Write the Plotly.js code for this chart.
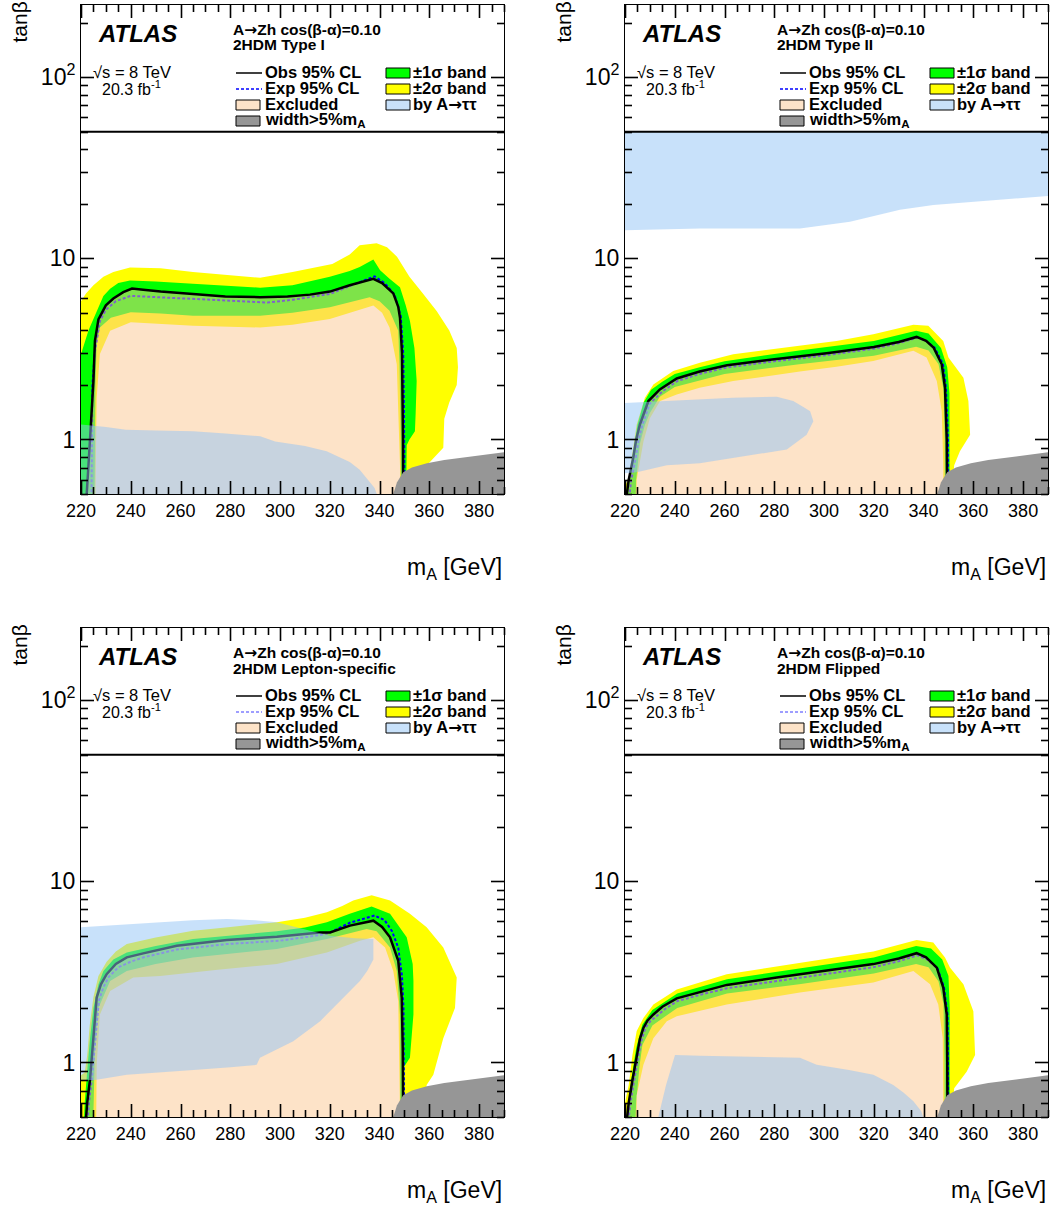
<!DOCTYPE html>
<html><head><meta charset="utf-8">
<script src="https://cdn.plot.ly/plotly-3.0.1.min.js"></script>
<style>html,body{margin:0;padding:0;background:#fff}#chart{width:1055px;height:1205px}</style>
</head><body><div id="chart"></div>
<script>
// ---------------- DATA ----------------
const massRange = [220, 390];
const tanbRange = [0.5, 250];
const tanbCut = 50;
const xTickStart = 220, xTickStep = 20, xMinorStep = 5;
const yTickVals = [1, 10, 100];
const yTickText = ['1', '10', '10<sup>2</sup>'];
const ARROW = '<span style="font-family:DejaVu Sans">\u2192</span>';
const headerText = 'A' + ARROW + 'Zh cos(\u03b2-\u03b1)=0.10';
const modelNames = ['2HDM Type I', '2HDM Type II', '2HDM Lepton-specific', '2HDM Flipped'];
const energyText = '\u221as = 8 TeV';
const lumiText = '20.3 fb<sup>-1</sup>';
const legendLabels = ['Obs 95% CL', 'Exp 95% CL', 'Excluded', 'width&gt;5%m<sub>A</sub>',
                      '\u00b11\u03c3 band', '\u00b12\u03c3 band', 'by A' + ARROW + '\u03c4\u03c4'];

// [mA, tanBeta] pairs
// ---- Type I ----
const t1_obs = [[222.0,0.45],[222.3,0.5],[223.2,0.8],[224.2,1.4],[225,2.1],[225.6,3.5],[227,4.6],[230,5.5],[233,6.0],[237,6.5],[240.5,6.8],[245,6.7],[252,6.55],[265,6.35],[278,6.15],[292,6.1],[303,6.15],[312,6.3],[320,6.55],[328,7.1],[337.5,7.7],[341,7.3],[345.5,6.4],[347.5,5.4],[348.2,4.7],[349,3.0],[349.2,2.0],[349.4,1.0],[349.5,0.45]];
const t1_exp = [[224.2,0.45],[224.3,1.0],[224.6,2.0],[225.5,3.0],[227.6,4.5],[230,5.2],[234,5.8],[240,6.2],[250,6.1],[265,5.95],[280,5.85],[295,5.7],[305,5.9],[320,6.35],[330,7.2],[338,7.95],[342,7.3],[346,6.3],[348.5,4.8],[349.5,3.0],[349.8,1.5],[350,0.45]];
const t1_band2Up = [[220,0.3],[220,5.8],[222,6.4],[225,7.1],[229,7.9],[233,8.4],[239.7,8.9],[252,8.8],[265,8.4],[280,8.1],[292,7.8],[305,8.4],[315,8.9],[321,9.3],[328,10.5],[332,11.8],[338.8,12.1],[343,11.5],[347,10.2],[352,7.9],[357,6.5],[363,5.1],[368,4.0],[371,3.2],[371.5,2.5],[371,2.0],[368,1.6],[366,1.3],[365.6,0.9],[362,0.8],[359,0.72],[357,0.5],[356,0.3]];
const t1_band1Up = [[220,0.3],[220,2.95],[223,4.0],[226.3,5.14],[229,6.2],[231.7,6.8],[235,7.3],[239.7,7.55],[250,7.45],[265,7.23],[280,7.0],[292,6.88],[305,7.1],[320,7.9],[328,8.5],[332,8.95],[337.5,9.84],[340.2,8.6],[344,7.7],[348.2,6.93],[350.5,5.5],[352.2,4.5],[354,3.2],[354.9,2.1],[354.5,1.4],[354.2,1.11],[352,1.0],[350.9,0.93],[350.5,0.3]];
const t1_band1Dn = [[225.3,0.3],[225.8,2.0],[226.3,3.4],[227.6,4.15],[232,4.7],[240,5.03],[252,4.95],[265,4.82],[292,4.82],[305,5.0],[320,5.37],[330,5.8],[336,6.1],[340,5.8],[344,5.14],[347.5,3.98],[348,2.6],[348.5,1.0],[348.6,0.3]];
const t1_band2Dn = [[225.6,0.3],[226.3,1.7],[227.6,2.96],[231.7,3.98],[240,4.43],[252,4.35],[265,4.24],[292,4.15],[305,4.3],[320,4.62],[330,5.1],[337.5,5.48],[341,5.0],[344,4.15],[346.9,2.6],[348.2,0.72],[348.3,0.3]];
const t1_tau = [[220,0.3],[220,1.21],[230,1.17],[238,1.13],[250,1.12],[265,1.11],[278,1.08],[292,1.04],[298,0.975],[310,0.92],[318.7,0.86],[328,0.75],[332,0.68],[335,0.61],[338,0.54],[340,0.45],[340,0.3]];

// ---- Type II ----
const t2_obs = [[220.3,0.45],[221.5,0.6],[223.3,0.79],[224.5,1.0],[226,1.21],[229.4,1.63],[234,1.89],[240.8,2.17],[250,2.37],[261,2.57],[280,2.77],[301,2.99],[320,3.24],[330,3.45],[337.2,3.68],[341,3.5],[344,3.22],[347.3,2.6],[348.6,1.93],[349.1,1.3],[349.3,1.0],[349.5,0.45]];
const t2_exp = [[221.5,0.45],[222.5,0.6],[224.3,0.79],[225.5,1.0],[227,1.21],[230,1.58],[235,1.84],[241,2.1],[250,2.3],[261,2.5],[280,2.7],[301,2.92],[320,3.17],[330,3.4],[337.5,3.65],[341,3.5],[344.5,3.2],[347.8,2.6],[349,1.93],[349.6,1.3],[349.8,1.0],[349.9,0.45]];
const t2_band2Up = [[220,0.3],[220,0.55],[221.5,0.62],[222.8,0.8],[224.7,1.21],[228,1.7],[231.4,2.01],[239.4,2.39],[250.1,2.65],[263.5,2.95],[290.3,3.28],[305,3.5],[319.8,3.81],[335.9,4.3],[341.9,4.24],[347.9,3.5],[350,2.83],[356,2.19],[358,1.63],[358.7,1.06],[354.6,0.86],[352.3,0.72],[350,0.3]];
const t2_band1Up = [[220.5,0.3],[221,0.5],[222,0.65],[223.5,0.9],[225,1.2],[227.5,1.6],[230.5,1.88],[235,2.08],[240,2.3],[250,2.5],[260,2.7],[290,3.1],[320,3.5],[337,3.98],[342,3.85],[347,3.2],[349.5,2.5],[350.4,1.8],[350.5,1.0],[350.5,0.3]];
const t2_band1Dn = [[223.8,0.3],[224.5,0.6],[226,0.95],[228,1.2],[230,1.4],[234,1.72],[240,1.95],[250,2.12],[260,2.3],[290,2.6],[320,2.9],[337,3.25],[342,3.1],[346,2.6],[348,1.9],[348.5,1.0],[348.6,0.3]];
const t2_band2Dn = [[224.3,0.3],[224.7,0.6],[227.4,0.97],[230,1.31],[234.1,1.63],[240.8,1.77],[250,1.93],[263.5,2.1],[290.3,2.37],[305,2.52],[319.8,2.71],[335.9,3.09],[341.2,2.83],[345.3,2.1],[347.3,1.43],[347.9,0.72],[348,0.3]];
const t2_tauHigh = [[220,50],[390,50],[390,22.1],[370.7,21],[343.9,19.7],[330.5,18.5],[310.4,15.9],[290.3,14.6],[250,14.6],[220,14.3]];
const t2_tauLow = [[220,1.59],[236.8,1.63],[263.5,1.70],[281,1.72],[287.6,1.63],[292,1.5],[294.4,1.43],[295.7,1.26],[293,1.06],[285,0.88],[270.2,0.82],[250,0.74],[236.8,0.72],[224.7,0.66],[220,0.65]];

// ---- Lepton-specific ----
const t3_obs = [[221.8,0.45],[222.5,0.6],[223.6,0.8],[224.9,1.31],[225.5,1.6],[226.3,2.28],[228,2.7],[230.3,3.07],[234,3.5],[238.4,3.8],[245,4.0],[258.5,4.41],[278.6,4.74],[298.7,4.94],[316.1,5.22],[320.1,5.22],[328.1,5.69],[337.5,6.06],[341,5.6],[344.2,4.91],[347.5,3.64],[348.9,2.28],[349.3,1.2],[349.5,0.45]];
const t3_exp = [[222.5,0.45],[223.2,0.6],[224.3,0.8],[225.6,1.31],[226.3,1.6],[227.2,2.2],[229,2.6],[231,2.95],[235,3.35],[240,3.6],[245,3.8],[258.5,4.2],[278.6,4.5],[300,4.7],[316,5.05],[320,5.2],[328,5.9],[338,6.47],[342,6.1],[345,5.3],[347.5,4.3],[349,3.0],[349.6,2.0],[349.8,1.0],[349.9,0.45]];
const t3_band2Up = [[220,0.3],[220,0.85],[221.5,0.88],[222.5,1.1],[223.5,1.6],[225,2.3],[227,3.0],[230.3,3.6],[234,4.1],[238.4,4.5],[250,4.9],[265,5.34],[280,5.6],[298.7,5.94],[310,6.3],[318.8,6.75],[325,7.3],[329.4,7.83],[336.8,8.36],[344.2,7.83],[352.2,6.61],[358.9,5.57],[365.6,4.31],[371,2.94],[370.3,2.0],[365.6,1.36],[361.6,0.855],[358.9,0.75],[357,0.3]];
const t3_band1Up = [[220.5,0.3],[221.5,0.6],[222.5,0.9],[223.5,1.3],[225,2.0],[227,2.7],[229,3.2],[233,3.7],[238.4,4.05],[250,4.4],[265,4.8],[280,5.0],[298.7,5.3],[310,5.55],[318.8,5.94],[328,6.61],[336.8,7.25],[344.2,6.61],[350.9,4.91],[353.3,3.5],[353.6,2.82],[353.6,1.84],[352.2,1.06],[349.9,0.95],[349.8,0.3]];
const t3_band1Dn = [[224.6,0.3],[225.6,1.2],[227,2.0],[231.7,2.82],[238.4,3.2],[250,3.5],[265,3.8],[298.7,4.23],[318.8,4.8],[334.8,5.46],[338.8,5.3],[344.2,4.31],[346.9,3.2],[348.2,1.84],[348.4,0.3]];
const t3_band2Dn = [[226,0.3],[226.3,0.97],[227.6,1.84],[231.7,2.48],[241,2.94],[251.8,3.0],[275,3.25],[298.7,3.49],[318.8,4.05],[332.1,4.7],[337.5,4.91],[342.2,4.31],[345.5,3.2],[347.5,2.18],[348.1,0.66],[348.2,0.3]];
const t3_tau = [[220,5.57],[235,5.75],[251.8,5.94],[265,6.1],[278.6,6.2],[290,6.1],[298.7,5.94],[306,5.6],[313,5.25],[320,5.0],[330,4.85],[337.5,4.8],[337.5,3.7],[335,3.2],[332.1,2.82],[325.4,2.28],[316.1,1.69],[305.3,1.31],[295,1.12],[291.9,1.06],[290.6,0.97],[280,0.94],[265.1,0.91],[238.4,0.855],[225.6,0.8],[220,0.8]];

// ---- Flipped ----
const t4_obs = [[220.5,0.45],[221.5,0.6],[223,0.8],[224.7,1.1],[226,1.35],[227.4,1.55],[229,1.7],[231.4,1.84],[235,2.03],[240.8,2.26],[250,2.45],[260.9,2.68],[281,2.94],[301.1,3.2],[319.8,3.49],[330,3.75],[337.2,4.01],[341,3.8],[345.3,3.34],[347.9,2.59],[349.3,1.84],[349.5,1.0],[349.6,0.45]];
const t4_exp = [[221.2,0.45],[222.2,0.6],[223.7,0.8],[225.4,1.1],[226.8,1.35],[228.2,1.55],[230,1.68],[232.5,1.8],[236,1.97],[241,2.18],[250,2.36],[261,2.57],[281,2.82],[301,3.07],[320,3.36],[330,3.62],[337.5,3.9],[341.5,3.7],[345.6,3.3],[348.2,2.6],[349.6,1.84],[349.8,1.0],[349.9,0.45]];
const t4_band2Up = [[220,0.3],[220,0.6],[221.5,0.75],[223,1.1],[224.7,1.49],[227.4,1.76],[231.4,2.09],[240.8,2.53],[260.9,3.07],[290.3,3.56],[319.8,4.1],[337.2,4.74],[343.9,4.6],[348.6,3.8],[350.6,3.34],[356,2.7],[360,1.92],[360.7,1.10],[357.3,0.89],[352.3,0.72],[350,0.3]];
const t4_band1Up = [[220.3,0.3],[221,0.5],[222.5,0.8],[224.5,1.2],[227,1.62],[231,1.95],[241,2.4],[261,2.88],[290,3.3],[320,3.8],[337,4.4],[343,4.25],[347.5,3.7],[350,3.0],[350.5,2.0],[350.5,0.3]];
const t4_band1Dn = [[223.5,0.3],[224.5,0.6],[225.8,0.95],[227,1.25],[231,1.6],[241,2.0],[261,2.4],[290,2.7],[320,3.1],[337,3.5],[342,3.35],[346,2.8],[348,2.1],[348.4,1.0],[348.5,0.3]];
const t4_band2Dn = [[224.5,0.3],[224.7,0.66],[227.4,0.97],[231.4,1.36],[236.8,1.69],[240.8,1.80],[260.9,2.09],[290.3,2.43],[319.8,2.76],[335.9,3.2],[342.6,2.7],[345.9,2.09],[347.7,1.36],[348,0.72],[348.1,0.3]];
const t4_tau = [[233,0.3],[233.4,0.5],[236.5,0.75],[240.1,1.10],[250,1.09],[263.5,1.08],[280,1.07],[290.3,1.06],[297,0.97],[310,0.91],[319.8,0.855],[327.8,0.75],[332,0.68],[335.9,0.61],[339,0.54],[341,0.45],[341,0.3]];

// region where the A width exceeds 5% of mA (same in all four panels)
const widthRegion = [[344.5,0.3],[345.5,0.5],[347,0.58],[349.5,0.66],[353,0.7],[359,0.74],[366,0.77],[372,0.79],[380,0.82],[390,0.85],[395,0.86],[395,0.3]];

// ---------------- STYLE / LAYOUT ----------------
const W = 1055, H = 1205;
const FONT = 'Liberation Sans, Arial, Helvetica, sans-serif';
const C = {
  yellow: '#ffff00', green: '#00ff00', white: '#ffffff',
  excl: 'rgba(251,199,145,0.5)', tau: 'rgba(145,195,245,0.5)', width: '#969696',
  exclLeg: '#fde3c8', tauLeg: '#c8e1fa', axis: '#000'
};
const TICK_W = 1.6;
const boxes = [[81,5,504,494],[625,5,1048,494],[81,628,504,1117],[625,628,1048,1117]];

const panels = [
  {obs:t1_obs, exp:t1_exp, b2u:t1_band2Up, b1u:t1_band1Up, b1d:t1_band1Dn, b2d:t1_band2Dn, tau:[t1_tau], expLeg:'#0000ff'},
  {obs:t2_obs, exp:t2_exp, b2u:t2_band2Up, b1u:t2_band1Up, b1d:t2_band1Dn, b2d:t2_band2Dn, tau:[t2_tauHigh, t2_tauLow], expLeg:'#0000ff'},
  {obs:t3_obs, exp:t3_exp, b2u:t3_band2Up, b1u:t3_band1Up, b1d:t3_band1Dn, b2d:t3_band2Dn, tau:[t3_tau], expLeg:'#7f7fff'},
  {obs:t4_obs, exp:t4_exp, b2u:t4_band2Up, b1u:t4_band1Up, b1d:t4_band1Dn, b2d:t4_band2Dn, tau:[t4_tau], expLeg:'#7f7fff'}
];

const xs = a => a.map(p => p[0]);
const ys = a => a.map(p => p[1]);

const minorY = [];
[0.1, 1, 10, 100].forEach(b => { for (let k = 2; k <= 9; k++) { const v = k * b; if (v >= tanbRange[0] && v <= tanbRange[1]) minorY.push(+v.toPrecision(3)); } });
const logRange = [Math.log10(tanbRange[0]), Math.log10(tanbRange[1])];

const traces = [];
const layout = {
  width: W, height: H, autosize: false,
  margin: {l: 0, r: 0, t: 0, b: 0},
  paper_bgcolor: '#fff', plot_bgcolor: '#fff',
  showlegend: false, annotations: [], shapes: []
};

function fillTrace(arr, color, xa, ya) {
  return {x: xs(arr), y: ys(arr), xaxis: xa, yaxis: ya, type: 'scatter', mode: 'lines',
          fill: 'toself', fillcolor: color, line: {width: 0, color: color}, hoverinfo: 'skip'};
}
const px2x = v => v / W;
const px2y = v => 1 - v / H;
const seg = (x0, y0, x1, y1, w, color, dash) => layout.shapes.push({type: 'line', xref: 'paper', yref: 'paper',
  x0: px2x(x0), y0: px2y(y0), x1: px2x(x1), y1: px2y(y1), line: {color: color || C.axis, width: w || TICK_W, dash: dash || 'solid'}});

panels.forEach((p, i) => {
  const n = i + 1;
  const xa = 'x' + (n === 1 ? '' : n), ya = 'y' + (n === 1 ? '' : n);
  const [L, T, R, B] = boxes[i];

  traces.push(fillTrace(p.b2u, C.yellow, xa, ya));
  traces.push(fillTrace(p.b1u, C.green, xa, ya));
  traces.push(fillTrace(p.b1d, C.yellow, xa, ya));
  traces.push(fillTrace(p.b2d, C.white, xa, ya));
  traces.push({x: xs(p.exp), y: ys(p.exp), xaxis: xa, yaxis: ya, type: 'scatter', mode: 'lines',
               line: {color: '#0000ff', width: 2, dash: '3px,2px'}, hoverinfo: 'skip'});
  traces.push(fillTrace(p.obs, C.excl, xa, ya));
  traces.push({x: xs(p.obs), y: ys(p.obs), xaxis: xa, yaxis: ya, type: 'scatter', mode: 'lines',
               line: {color: '#000', width: 2.5}, hoverinfo: 'skip'});
  p.tau.forEach(t => traces.push(fillTrace(t, C.tau, xa, ya)));
  traces.push(fillTrace(widthRegion, C.width, xa, ya));
  traces.push({x: massRange, y: [tanbCut, tanbCut], xaxis: xa, yaxis: ya, type: 'scatter', mode: 'lines',
               line: {color: '#000', width: 2}, hoverinfo: 'skip'});

  const axKeyX = 'xaxis' + (n === 1 ? '' : n), axKeyY = 'yaxis' + (n === 1 ? '' : n);
  layout[axKeyX] = {
    domain: [L / W, R / W], anchor: ya, range: massRange,
    tickmode: 'linear', tick0: xTickStart, dtick: xTickStep, ticks: '',
    showline: true, linecolor: C.axis, linewidth: 1, mirror: true,
    showgrid: false, zeroline: false,
    tickfont: {family: FONT, size: 18, color: '#000'}
  };
  layout[axKeyY] = {
    domain: [1 - B / H, 1 - T / H], anchor: xa, type: 'log', range: logRange,
    tickmode: 'array', tickvals: yTickVals, ticktext: yTickText, ticks: '',
    showline: true, linecolor: C.axis, linewidth: 1, mirror: true,
    showgrid: false, zeroline: false,
    tickfont: {family: FONT, size: 23, color: '#000'}
  };

  // tick marks (inside, on all four sides), placed on the same scales as the axes
  for (let m = massRange[0]; m <= massRange[1]; m += xMinorStep) {
    const len = ((m - xTickStart) % xTickStep === 0) ? 13 : 7;
    const px = Math.round(L + (m - massRange[0]) / (massRange[1] - massRange[0]) * (R - L)) + 0.5;
    seg(px, B, px, B - len); seg(px, T, px, T + len);
  }
  yTickVals.map(v => [v, 13]).concat(minorY.map(v => [v, 7])).forEach(([v, len]) => {
    const py = Math.round(T + (logRange[1] - Math.log10(v)) / (logRange[1] - logRange[0]) * (B - T)) + 0.5;
    seg(L, py, L + len, py); seg(R, py, R - len, py);
  });

  // axis titles
  layout.annotations.push({xref: 'paper', yref: 'paper', x: px2x(L - 62), y: px2y(T - 5), xanchor: 'center', yanchor: 'top',
    text: 'tan\u03b2', textangle: -90, showarrow: false, font: {family: FONT, size: 21, color: '#000'}});
  layout.annotations.push({xref: 'paper', yref: 'paper', x: px2x(R), y: px2y(B + 74), xanchor: 'right', yanchor: 'middle',
    text: 'm<sub>A</sub> [GeV]', showarrow: false, font: {family: FONT, size: 23, color: '#000'}});

  const txt = (dx, dy, text, size) => layout.annotations.push({
    xref: 'paper', yref: 'paper', x: px2x(L + dx), y: px2y(T + dy), xanchor: 'left', yanchor: 'middle',
    text: text, showarrow: false, font: {family: FONT, size: size, color: '#000'}});
  txt(15, 28, '<b><i>ATLAS</i></b>', 24);
  txt(150, 25, '<b>' + headerText + '</b>', 15.5);
  txt(150, 40, '<b>' + modelNames[i] + '</b>', 15.5);
  txt(10, 67, energyText, 16.5);
  txt(19, 83, lumiText, 16);

  const rows = [67, 83, 99, 115];
  for (let k = 0; k < 4; k++) txt(182, rows[k], '<b>' + legendLabels[k] + '</b>', 16.5);
  for (let k = 0; k < 3; k++) txt(330, rows[k], '<b>' + legendLabels[4 + k] + '</b>', 16.5);

  seg(L + 155, T + rows[0] + 1, L + 181, T + rows[0] + 1, 1.5, '#000');
  seg(L + 155, T + rows[1] + 1, L + 181, T + rows[1] + 1, 1.5, p.expLeg, '3px,2px');
  const box = (dx, dy, color) => layout.shapes.push({type: 'rect', xref: 'paper', yref: 'paper',
    x0: px2x(L + dx), x1: px2x(L + dx + 24), y0: px2y(T + dy + 6), y1: px2y(T + dy - 4),
    fillcolor: color, line: {color: '#000', width: 1}});
  box(155, rows[2], C.exclLeg);
  box(155, rows[3], C.width);
  box(305, rows[0], C.green);
  box(305, rows[1], C.yellow);
  box(305, rows[2], C.tauLeg);
});

Plotly.newPlot('chart', traces, layout, {staticPlot: true, displayModeBar: false});
</script>
</body></html>
